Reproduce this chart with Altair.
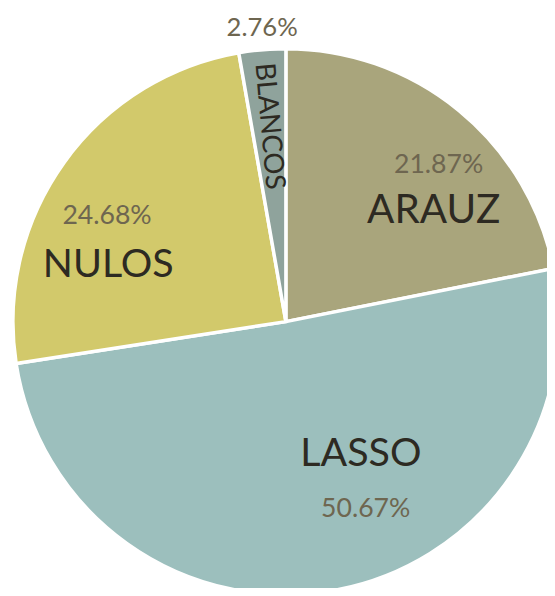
import math
import altair as alt
import pandas as pd

categories = ["ARAUZ", "LASSO", "NULOS", "BLANCOS"]
values = [21.87, 50.67, 24.68, 2.76]
colors = ["#a9a57c", "#9cbfbd", "#d2c96b", "#8fa39c"]

df = pd.DataFrame({"cat": categories, "val": values, "idx": list(range(len(categories)))})
total = sum(values)

CX, CY = 282, 314
R = 277
theta_scale = alt.Scale(domain=[0, total], range=[0, 2 * math.pi])

base = (
    alt.Chart(df)
    .transform_window(cum="sum(val)", sort=[alt.SortField("idx")], frame=[None, 0])
    .transform_calculate(
        start="datum.cum - datum.val",
        mid="datum.cum - datum.val / 2",
        pct="format(datum.val, '.2f') + '%'",
    )
)

arc = base.mark_arc(x=CX, y=CY, outerRadius=R, stroke="white", strokeWidth=3.5).encode(
    theta=alt.Theta("start:Q", scale=theta_scale),
    theta2="cum:Q",
    color=alt.Color("cat:N", scale=alt.Scale(domain=categories, range=colors), legend=None),
    order=alt.Order("idx:Q"),
)

NAME_COLOR = "#2d2a22"
PCT_COLOR = "#6e6650"
FONT = "Lato"


def label(cat, field, radius, dx, dy, size, color, angle=0):
    return (
        base.transform_filter(alt.datum.cat == cat)
        .mark_text(
            x=CX, y=CY, radius=radius, dx=dx, dy=dy, fontSize=size, font=FONT,
            color=color, align="center", baseline="middle", angle=angle,
        )
        .encode(theta=alt.Theta("mid:Q", scale=theta_scale), text=alt.Text(f"{field}:N"))
    )


layers = [
    arc,
    label("ARAUZ", "cat", 194, 27, 38, 41, NAME_COLOR),
    label("ARAUZ", "pct", 216, 18, 8, 27, PCT_COLOR),
    label("LASSO", "cat", 150, 50, -13, 40, NAME_COLOR),
    label("LASSO", "pct", 201, 46, -8, 27, PCT_COLOR),
    label("NULOS", "cat", 191, -25, 54, 40, NAME_COLOR),
    label("NULOS", "pct", 211, -10, 16, 27, PCT_COLOR),
    label("BLANCOS", "cat", 199, 0, 0, 28, NAME_COLOR, angle=85),
    label("BLANCOS", "pct", 301, 2, 2, 26, PCT_COLOR),
]

chart = (
    alt.layer(*layers)
    .properties(width=547, height=580, padding=0, autosize=alt.AutoSizeParams(type="none"))
    .configure_view(stroke=None)
)

chart.save("out.html", embed_options={"renderer": "svg", "actions": False})
